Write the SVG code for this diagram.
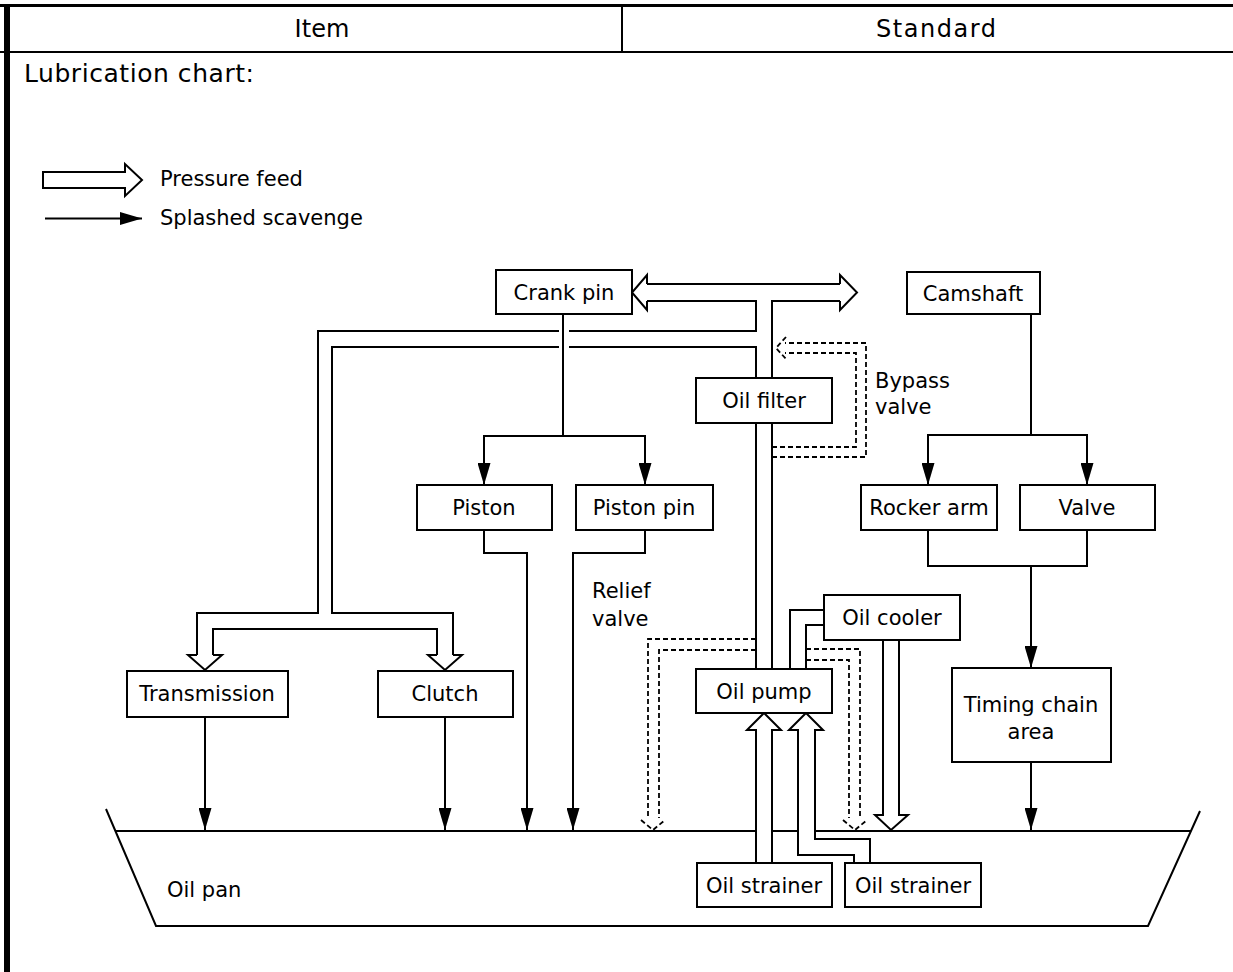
<svg xmlns="http://www.w3.org/2000/svg" width="1233" height="972" viewBox="0 0 1233 972">
<defs>
<marker id="ah" markerUnits="userSpaceOnUse" markerWidth="22" markerHeight="13" refX="22" refY="6.5" orient="auto">
<path d="M0,0 L22,6.5 L0,13 z" fill="#000"/>
</marker>
<style>
text{font-family:"DejaVu Sans","Liberation Sans",sans-serif;font-size:21px;fill:#000}
.hd{font-size:24px}
.c{text-anchor:middle}
.box{fill:#fff;stroke:#000;stroke-width:2}
.ln{fill:none;stroke:#000;stroke-width:2}
.sc{fill:none;stroke:#000;stroke-width:2;marker-end:url(#ah)}
.pipe{fill:none;stroke:#000;stroke-width:2;stroke-linejoin:miter}
.dash{fill:none;stroke:#000;stroke-width:1.8;stroke-dasharray:5 3}
</style>
</defs>
<rect width="1233" height="972" fill="#fff"/>

<g id="frame">
<line x1="0" y1="5.5" x2="1233" y2="5.5" stroke="#000" stroke-width="3"/>
<line x1="0" y1="52" x2="1233" y2="52" stroke="#000" stroke-width="2"/>
<line x1="622" y1="5" x2="622" y2="52" stroke="#000" stroke-width="2"/>
<line x1="7" y1="4" x2="7" y2="972" stroke="#000" stroke-width="6"/>
<text class="hd c" x="322" y="37" textLength="55">Item</text>
<text class="hd c" x="936" y="37" textLength="120">Standard</text>
<text x="24" y="82" style="font-size:25px" textLength="230">Lubrication chart:</text>
</g>

<g id="legend">
<path class="pipe" d="M125,172 H43 V188 H125 V196 L142,180 L125,164 Z"/>
<text x="160" y="186">Pressure feed</text>
<line class="sc" x1="45" y1="218.5" x2="142" y2="218.5"/>
<text x="160" y="225">Splashed scavenge</text>
</g>

<g id="oil-pan">
<path class="ln" d="M106,809 L156,926 H1148 L1200,811"/>
<path class="ln" d="M115,831 H756 M772,831 H798 M815,831 H1191"/>
<text x="167" y="897">Oil pan</text>
</g>

<g id="connectors">
<!-- splashed scavenge -->
<path class="sc" d="M563,314 V436 H484 V485"/>
<path class="sc" d="M563,436 H645 V485"/>
<path class="sc" d="M484,530 V553 H527 V830"/>
<path class="sc" d="M645,530 V553 H573 V830"/>
<path class="sc" d="M205,717 V830"/>
<path class="sc" d="M445,717 V830"/>
<path class="sc" d="M1031,314 V435 H928 V485"/>
<path class="sc" d="M1031,435 H1087 V485"/>
<path class="ln" d="M928,530 V566 H1087 V530"/>
<path class="sc" d="M1031,566 V668"/>
<path class="sc" d="M1031,762 V830"/>

<!-- pressure feed pipes -->
<path class="pipe" d="M647,284 H840"/>
<path class="pipe" d="M647,284 V275 L632,292.5 L647,310 V301"/>
<path class="pipe" d="M840,284 V275 L857,292.5 L840,310 V301"/>
<path class="pipe" d="M647,301 H756 V331 H569 M559,331 H318 V613 H197 V655"/>
<path class="pipe" d="M840,301 H772 V378"/>
<path class="pipe" d="M756,378 V347 H569 M559,347 H332 V613 H453 V655"/>
<path class="pipe" d="M213,655 V629 H437 V655"/>
<path class="pipe" d="M197,655 H188 L205,670 L222,655 H213"/>
<path class="pipe" d="M437,655 H428 L445,670 L462,655 H453"/>
<path class="pipe" d="M756,423 V669 M772,423 V669"/>
<path class="pipe" d="M790,669 V610 H824 M806,669 V625 H824"/>
<path class="pipe" d="M883,640 V815 H875 L891,830 L908,815 H899 V640"/>
<path class="pipe" d="M756,863 V730 H747 L764,713 L781,730 H772 V863"/>
<path class="pipe" d="M854,863 V855 H798 V730 H789 L806,713 L823,730 H815 V839 H870 V863"/>

<!-- valves (dashed) -->
<path class="dash" d="M772,457 H866 V343 H785"/>
<path class="dash" d="M772,447 H856 V353 H785"/>
<path class="dash" d="M786,337 L776,348 L786,359"/>
<path class="dash" d="M756,639 H648 V818"/>
<path class="dash" d="M756,650 H659 V818"/>
<path class="dash" d="M641,820 L653,830 L665,820"/>
<path class="dash" d="M806,649 H860 V818"/>
<path class="dash" d="M806,660 H849 V818"/>
<path class="dash" d="M843,820 L855,830 L867,820"/>
</g>

<g id="labels">
<text x="875" y="388">Bypass</text>
<text x="875" y="414">valve</text>
<text x="592" y="598">Relief</text>
<text x="592" y="626">valve</text>
</g>

<g id="crank-pin"><rect class="box" x="496" y="270" width="136" height="44"/><text class="c" x="564" y="300">Crank pin</text></g>
<g id="camshaft"><rect class="box" x="907" y="272" width="133" height="42"/><text class="c" x="973" y="301">Camshaft</text></g>
<g id="oil-filter"><rect class="box" x="696" y="378" width="136" height="45"/><text class="c" x="764" y="408">Oil filter</text></g>
<g id="piston"><rect class="box" x="417" y="485" width="135" height="45"/><text class="c" x="484" y="515">Piston</text></g>
<g id="piston-pin"><rect class="box" x="576" y="485" width="137" height="45"/><text class="c" x="644" y="515">Piston pin</text></g>
<g id="rocker-arm"><rect class="box" x="861" y="485" width="136" height="45"/><text class="c" x="929" y="515">Rocker arm</text></g>
<g id="valve"><rect class="box" x="1020" y="485" width="135" height="45"/><text class="c" x="1087" y="515">Valve</text></g>
<g id="oil-cooler"><rect class="box" x="824" y="595" width="136" height="45"/><text class="c" x="892" y="625">Oil cooler</text></g>
<g id="transmission"><rect class="box" x="127" y="671" width="161" height="46"/><text class="c" x="207" y="701">Transmission</text></g>
<g id="clutch"><rect class="box" x="378" y="671" width="135" height="46"/><text class="c" x="445" y="701">Clutch</text></g>
<g id="oil-pump"><rect class="box" x="696" y="669" width="136" height="44"/><text class="c" x="764" y="699">Oil pump</text></g>
<g id="timing-chain-area"><rect class="box" x="952" y="668" width="159" height="94"/><text class="c" x="1031" y="712">Timing chain</text><text class="c" x="1031" y="739">area</text></g>
<g id="oil-strainer-1"><rect class="box" x="697" y="863" width="135" height="44"/><text class="c" x="764" y="893">Oil strainer</text></g>
<g id="oil-strainer-2"><rect class="box" x="845" y="863" width="136" height="44"/><text class="c" x="913" y="893">Oil strainer</text></g>
</svg>
